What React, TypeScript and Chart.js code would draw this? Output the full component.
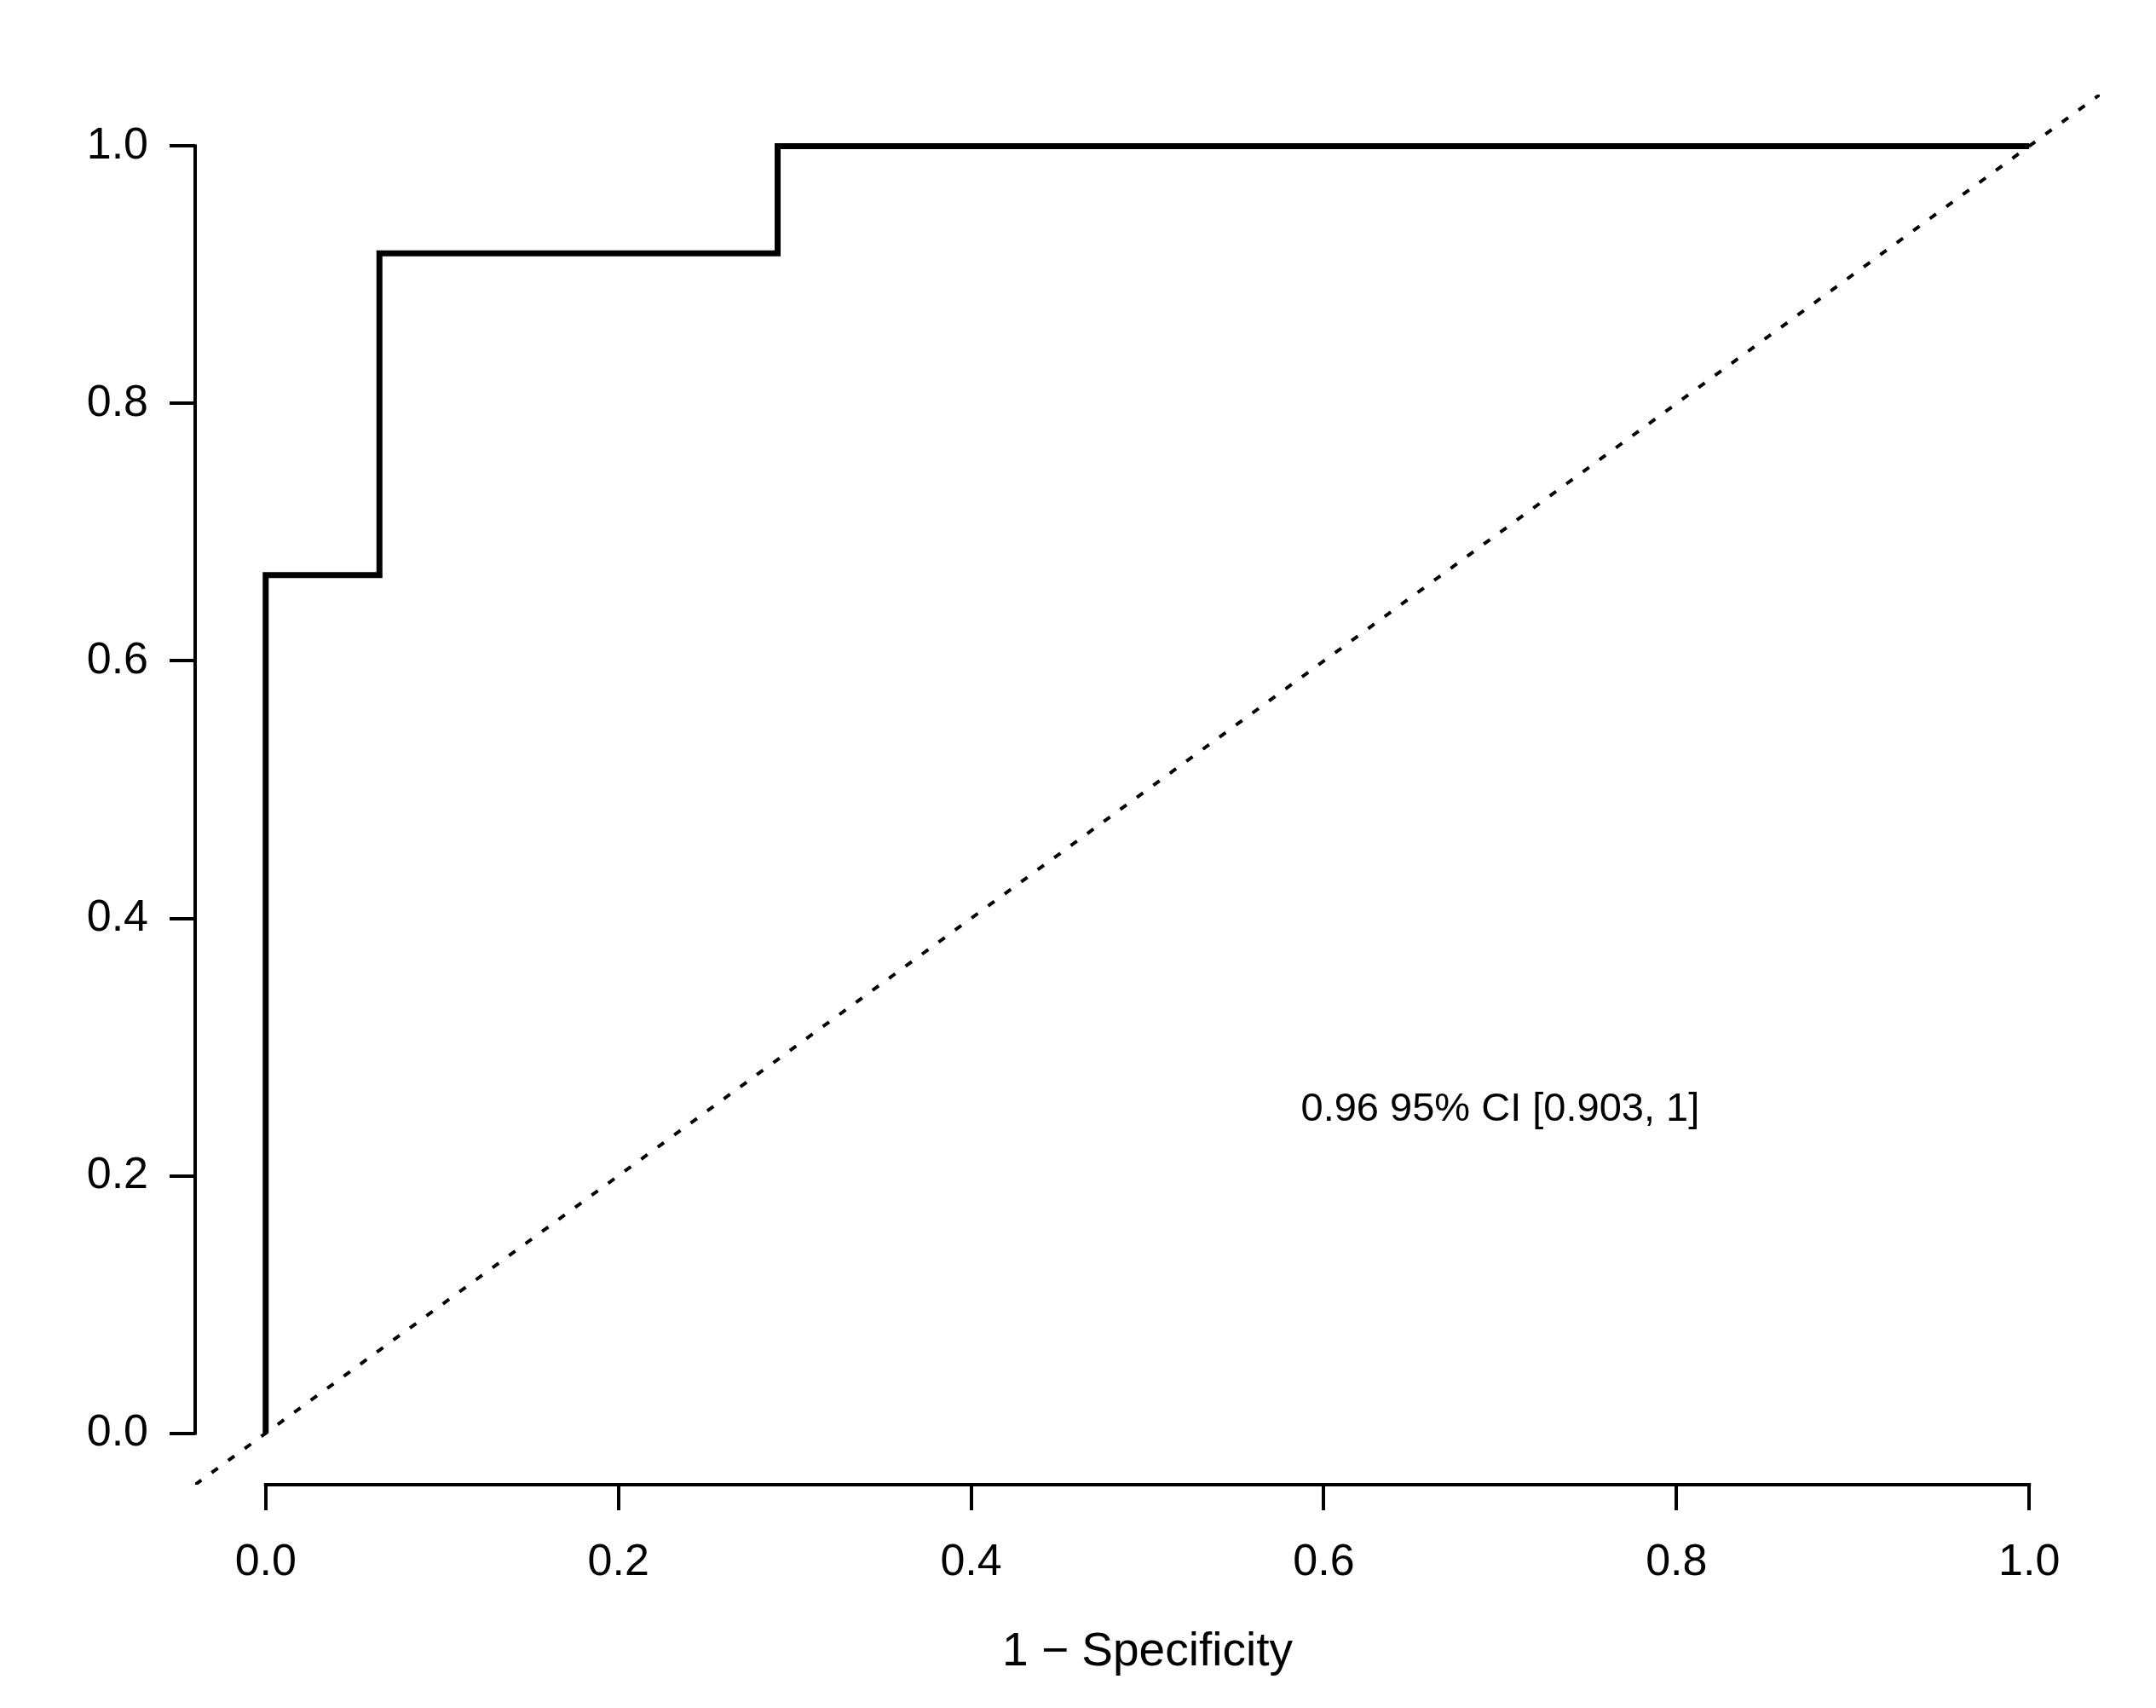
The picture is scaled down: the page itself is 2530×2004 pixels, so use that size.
import React, { useEffect, useRef } from "react";
import { Chart, registerables } from "chart.js";

Chart.register(...registerables);

// ROC curve (1 - specificity, sensitivity)
const rocFpr = [0, 0, 0.0645, 0.0645, 0.2903, 0.2903, 1.0];
const rocTpr = [0, 0.6667, 0.6667, 0.9167, 0.9167, 1.0, 1.0];
// chance diagonal across the whole plot region
const diagX = [-0.04, 1.04];
const diagY = [-0.04, 1.04];

const xTicks = [0, 0.2, 0.4, 0.6, 0.8, 1.0];
const yTicks = [0, 0.2, 0.4, 0.6, 0.8, 1.0];
const xTickLabels = ["0.0", "0.2", "0.4", "0.6", "0.8", "1.0"];
const yTickLabels = ["0.0", "0.2", "0.4", "0.6", "0.8", "1.0"];
const xTitle = "1 \u2212 Specificity";
const annotationText = "0.96 95% CI [0.903, 1]";
const annotationX = 0.70;
const annotationY = 0.251;

const FONT = "'Liberation Sans', Arial, Helvetica, sans-serif";

const rAxesPlugin = {
  id: "rAxes",
  afterDraw(chart: any) {
    const { ctx, chartArea, scales } = chart;
    const x = scales.x;
    const y = scales.y;
    ctx.save();
    ctx.strokeStyle = "#000";
    ctx.lineWidth = 4;
    ctx.lineCap = "butt";
    ctx.beginPath();
    ctx.moveTo(chartArea.left, y.getPixelForValue(yTicks[0]) + 2);
    ctx.lineTo(chartArea.left, y.getPixelForValue(yTicks[yTicks.length - 1]) - 2);
    ctx.moveTo(x.getPixelForValue(xTicks[0]) - 2, chartArea.bottom);
    ctx.lineTo(x.getPixelForValue(xTicks[xTicks.length - 1]) + 2, chartArea.bottom);
    ctx.stroke();

    ctx.fillStyle = "#000";
    ctx.font = `47px ${FONT}`;
    ctx.textAlign = "center";
    ctx.textBaseline = "middle";
    ctx.fillText(annotationText, x.getPixelForValue(annotationX), y.getPixelForValue(annotationY));
    ctx.restore();
  },
};

export default function App() {
  const canvasRef = useRef<HTMLCanvasElement | null>(null);

  useEffect(() => {
    const canvas = canvasRef.current;
    if (!canvas) return;
    const chart = new Chart(canvas, {
      type: "scatter",
      data: {
        datasets: [
          {
            label: "diagonal",
            data: diagX.map((v, i) => ({ x: v, y: diagY[i] })),
            showLine: true,
            borderColor: "#000",
            borderWidth: 4,
            borderDash: [9, 15],
            pointRadius: 0,
            fill: false,
            order: 2,
          },
          {
            label: "ROC",
            data: rocFpr.map((v, i) => ({ x: v, y: rocTpr[i] })),
            showLine: true,
            borderColor: "#000",
            borderWidth: 7,
            pointRadius: 0,
            fill: false,
            tension: 0,
            borderJoinStyle: "miter",
            order: 1,
          },
        ],
      },
      options: {
        responsive: false,
        animation: false,
        devicePixelRatio: 1,
        layout: { padding: { top: 111, right: 66, left: 0, bottom: 0 } },
        plugins: {
          legend: { display: false },
          tooltip: { enabled: false },
        },
        scales: {
          x: {
            type: "linear",
            position: "bottom",
            min: -0.04,
            max: 1.04,
            afterBuildTicks: (scale: any) => {
              scale.ticks = xTicks.map((v) => ({ value: v }));
            },
            afterFit: (scale: any) => {
              scale.height = 262;
            },
            ticks: {
              autoSkip: false,
              maxRotation: 0,
              color: "#000",
              padding: 30,
              font: { family: FONT, size: 52 },
              callback: (_v: any, i: number) => xTickLabels[i],
            },
            grid: {
              drawOnChartArea: false,
              drawTicks: true,
              tickLength: 30,
              color: "#000",
              lineWidth: 4,
            },
            border: { display: false },
            title: {
              display: true,
              text: xTitle,
              color: "#000",
              font: { family: FONT, size: 55 },
              padding: { top: 0, bottom: 32 },
            },
          },
          y: {
            type: "linear",
            position: "left",
            min: -0.04,
            max: 1.04,
            afterBuildTicks: (scale: any) => {
              scale.ticks = yTicks.map((v) => ({ value: v }));
            },
            afterFit: (scale: any) => {
              scale.width = 229;
            },
            ticks: {
              autoSkip: false,
              color: "#000",
              padding: 25,
              font: { family: FONT, size: 52 },
              callback: (_v: any, i: number) => yTickLabels[i],
            },
            grid: {
              drawOnChartArea: false,
              drawTicks: true,
              tickLength: 30,
              color: "#000",
              lineWidth: 4,
            },
            border: { display: false },
          },
        },
      },
      plugins: [rAxesPlugin],
    });
    return () => chart.destroy();
  }, []);

  return (
    <div style={{ position: "absolute", left: 0, top: 0, width: 2530, height: 2004, background: "#fff" }}>
      <canvas ref={canvasRef} width={2530} height={2004} style={{ width: 2530, height: 2004, display: "block" }} />
    </div>
  );
}
